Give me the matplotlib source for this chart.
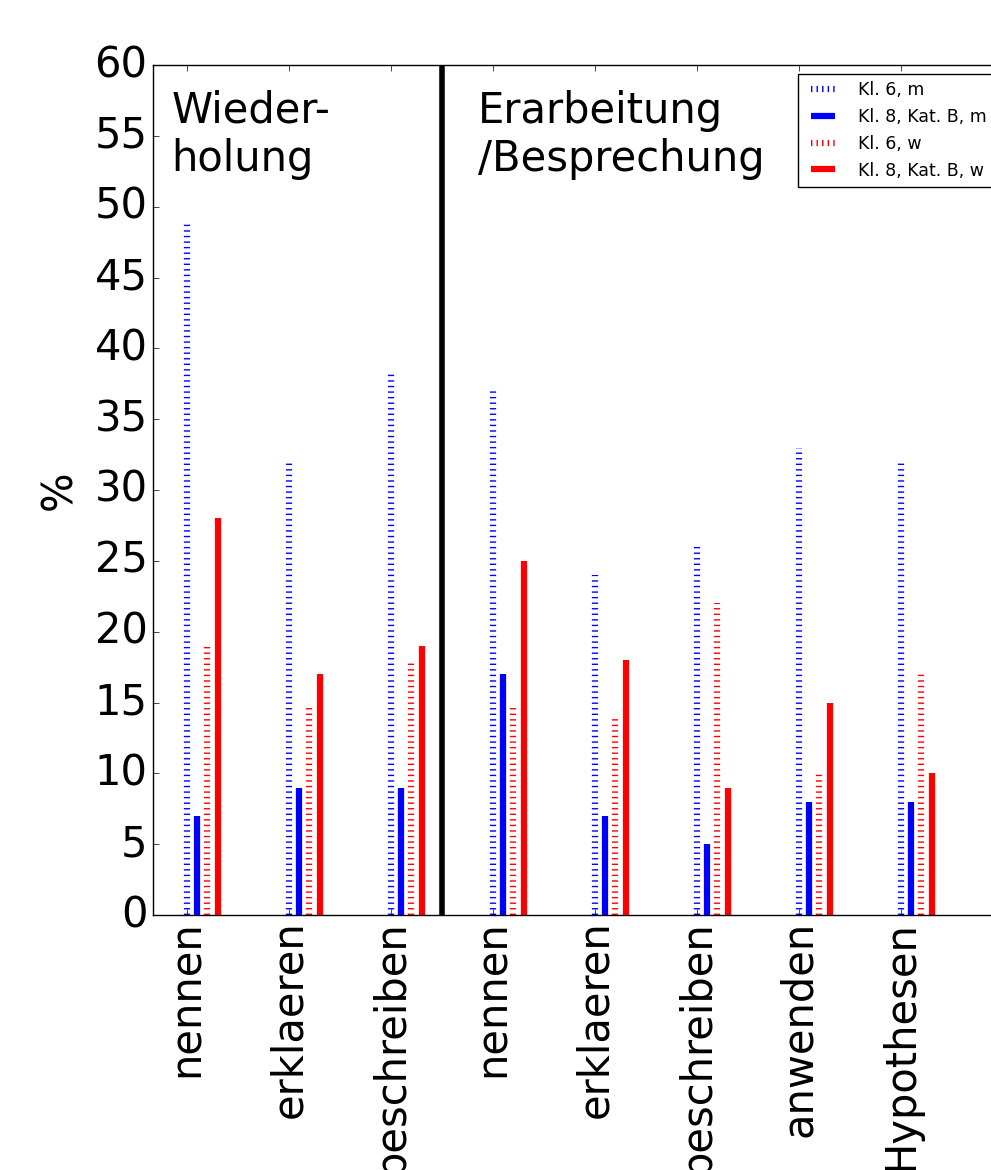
import matplotlib
matplotlib.use("Agg")
import matplotlib.pyplot as plt
import numpy as np

plt.style.use('classic')
plt.rcParams['font.family'] = ['DejaVu Sans']
plt.rcParams['lines.scale_dashes'] = False

categories = ['nennen', 'erklaeren', 'beschreiben',
              'nennen', 'erklaeren', 'beschreiben', 'anwenden', 'Hypothesen']
kl6_m = [48.8, 32, 38.2, 37, 24, 26, 33, 32]
kl8_m = [7, 9, 9, 17, 7, 5, 8, 8]
kl6_w = [19, 14.8, 17.8, 14.8, 14, 22, 10, 17]
kl8_w = [28, 17, 19, 25, 18, 9, 15, 10]
series_labels = ['Kl. 6, m', 'Kl. 8, Kat. B, m', 'Kl. 6, w', 'Kl. 8, Kat. B, w']
section_labels = ['Wieder-\nholung', 'Erarbeitung\n/Besprechung']

fig = plt.figure(figsize=(9.91, 11.70), dpi=100, facecolor='white')
ax = fig.add_axes([153/991, 255/1170, 850/991, 850/1170])

x = np.arange(len(categories))
ax.vlines(x + 0.0, 0, kl6_m, colors='b', linestyles=':', lw=4.5, label=series_labels[0])
ax.vlines(x + 0.1, 0, kl8_m, colors='b', linestyles='-', lw=4.5, label=series_labels[1])
ax.vlines(x + 0.2, 0, kl6_w, colors='r', linestyles=':', lw=4.5, label=series_labels[2])
ax.vlines(x + 0.3, 0, kl8_w, colors='r', linestyles='-', lw=4.5, label=series_labels[3])

ax.axvline(2.5, color='k', lw=4)

ax.set_xlim(-1/3, -1/3 + 850/102)
ax.set_ylim(0, 60)
ax.set_yticks(np.arange(0, 61, 5))
ax.set_xticks(x)
ax.set_xticklabels(categories, rotation=90, fontsize=30)
ax.tick_params(axis='y', labelsize=30)
ax.set_ylabel('%', fontsize=30)
ax.yaxis.set_label_coords(-0.086, 0.5)

ax.text(-0.15, 0.971, section_labels[0], transform=ax.get_xaxis_transform(),
        fontsize=30, va='top', ha='left')
ax.text(2.85, 0.971, section_labels[1], transform=ax.get_xaxis_transform(),
        fontsize=30, va='top', ha='left')

ax.legend(loc='upper right', fontsize=12.5, handletextpad=1.0, borderpad=0.45)

fig.savefig('out.png', dpi=100, facecolor='white')
